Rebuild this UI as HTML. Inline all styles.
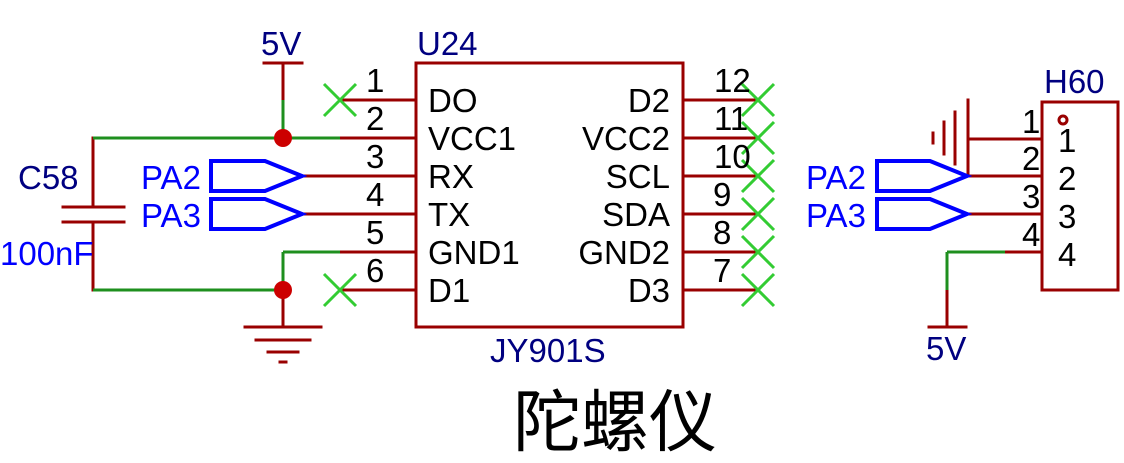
<!DOCTYPE html>
<html><head><meta charset="utf-8"><style>
html,body{margin:0;padding:0;background:#fff;}
svg{display:block;}
text{font-family:"Liberation Sans","Noto Sans CJK SC",sans-serif;}
</style></head><body>
<svg width="1124" height="463" viewBox="0 0 1124 463" xmlns="http://www.w3.org/2000/svg">
<g stroke="#990000" stroke-width="3" fill="none" stroke-linecap="square">
  <rect x="416" y="63" width="267" height="264"/>
  <line x1="340" y1="100" x2="416" y2="100"/>
  <line x1="340" y1="138" x2="416" y2="138"/>
  <line x1="302" y1="176" x2="416" y2="176"/>
  <line x1="302" y1="214" x2="416" y2="214"/>
  <line x1="340" y1="252" x2="416" y2="252"/>
  <line x1="340" y1="290" x2="416" y2="290"/>
  <line x1="683" y1="100" x2="755" y2="100"/>
  <line x1="683" y1="138" x2="755" y2="138"/>
  <line x1="683" y1="176" x2="755" y2="176"/>
  <line x1="683" y1="214" x2="755" y2="214"/>
  <line x1="683" y1="252" x2="755" y2="252"/>
  <line x1="683" y1="290" x2="755" y2="290"/>
  <line x1="264" y1="63" x2="302" y2="63"/>
  <line x1="283" y1="63" x2="283" y2="100"/>
  <line x1="93" y1="138" x2="93" y2="207"/>
  <line x1="93" y1="222" x2="93" y2="290"/>
  <line x1="63" y1="207" x2="124" y2="207"/>
  <line x1="63" y1="222" x2="124" y2="222"/>
  <line x1="283" y1="290" x2="283" y2="327"/>
  <line x1="245" y1="327" x2="321" y2="327"/>
  <line x1="256" y1="340" x2="310" y2="340"/>
  <line x1="268" y1="352" x2="298" y2="352"/>
  <line x1="280" y1="362" x2="286" y2="362"/>
  <rect x="1042" y="102" width="76" height="188"/>
  <line x1="968" y1="139" x2="1042" y2="139"/>
  <line x1="968" y1="176" x2="1042" y2="176"/>
  <line x1="968" y1="214" x2="1042" y2="214"/>
  <line x1="1005" y1="252" x2="1042" y2="252"/>
  <line x1="968" y1="100" x2="968" y2="176"/>
  <line x1="955" y1="112" x2="955" y2="164"/>
  <line x1="944" y1="122" x2="944" y2="154"/>
  <line x1="933" y1="133" x2="933" y2="143"/>
  <line x1="947" y1="290" x2="947" y2="327"/>
  <line x1="929" y1="327" x2="966" y2="327"/>
  <circle cx="1063" cy="120" r="4"/>
</g>
<g stroke="#1e8f1e" stroke-width="3" fill="none">
  <line x1="283" y1="100" x2="283" y2="138"/>
  <line x1="93" y1="138" x2="340" y2="138"/>
  <line x1="93" y1="290" x2="283" y2="290"/>
  <line x1="283" y1="252" x2="340" y2="252"/>
  <line x1="283" y1="252" x2="283" y2="290"/>
  <line x1="947" y1="252" x2="1005" y2="252"/>
  <line x1="947" y1="252" x2="947" y2="290"/>
</g>
<g fill="#cc0000">
  <circle cx="283" cy="138" r="9"/>
  <circle cx="283" cy="290" r="9"/>
</g>
<g stroke="#33cc33" stroke-width="3">
  <path d="M324 84 L356 116 M356 84 L324 116"/>
  <path d="M324 274 L356 306 M356 274 L324 306"/>
  <path d="M742 84 L774 116 M774 84 L742 116"/>
  <path d="M742 122 L774 154 M774 122 L742 154"/>
  <path d="M742 160 L774 192 M774 160 L742 192"/>
  <path d="M742 198 L774 230 M774 198 L742 230"/>
  <path d="M742 236 L774 268 M774 236 L742 268"/>
  <path d="M742 274 L774 306 M774 274 L742 306"/>
</g>
<g stroke="#0000ff" stroke-width="4" fill="none">
  <path d="M211 161 L265 161 L302 176 L265 191 L211 191 Z"/>
  <path d="M211 199 L265 199 L302 214 L265 229 L211 229 Z"/>
  <path d="M877 161 L930 161 L967 176 L930 191 L877 191 Z"/>
  <path d="M877 199 L930 199 L967 214 L930 229 L877 229 Z"/>
</g>
<g font-size="33" fill="#0000ff">
  <text x="141" y="189">PA2</text>
  <text x="141" y="227">PA3</text>
  <text x="806" y="189">PA2</text>
  <text x="806" y="227">PA3</text>
  <text x="0" y="265">100nF</text>
</g>
<g font-size="33" fill="#000080">
  <text x="261" y="55">5V</text>
  <text x="417" y="55">U24</text>
  <text x="18" y="189">C58</text>
  <text x="490" y="362">JY901S</text>
  <text x="1044" y="93">H60</text>
  <text x="926" y="360">5V</text>
</g>
<g font-size="33" fill="#000">
  <text x="366" y="92">1</text>
  <text x="366" y="130">2</text>
  <text x="366" y="168">3</text>
  <text x="366" y="206">4</text>
  <text x="366" y="244">5</text>
  <text x="366" y="282">6</text>
  <text x="428" y="112">DO</text>
  <text x="428" y="150">VCC1</text>
  <text x="428" y="188">RX</text>
  <text x="428" y="226">TX</text>
  <text x="428" y="264">GND1</text>
  <text x="428" y="302">D1</text>
  <text x="670" y="112" text-anchor="end">D2</text>
  <text x="670" y="150" text-anchor="end">VCC2</text>
  <text x="670" y="188" text-anchor="end">SCL</text>
  <text x="670" y="226" text-anchor="end">SDA</text>
  <text x="670" y="264" text-anchor="end">GND2</text>
  <text x="670" y="302" text-anchor="end">D3</text>
  <text x="714" y="92">12</text>
  <text x="714" y="130">11</text>
  <text x="714" y="168">10</text>
  <text x="713" y="206">9</text>
  <text x="713" y="244">8</text>
  <text x="713" y="282">7</text>
  <text x="1022" y="133">1</text>
  <text x="1022" y="170">2</text>
  <text x="1022" y="208">3</text>
  <text x="1022" y="246">4</text>
  <text x="1058" y="152">1</text>
  <text x="1058" y="190">2</text>
  <text x="1058" y="228">3</text>
  <text x="1058" y="266">4</text>
  <text x="615" y="446" font-size="68" text-anchor="middle">陀螺仪</text>
</g>
</svg>
</body></html>
